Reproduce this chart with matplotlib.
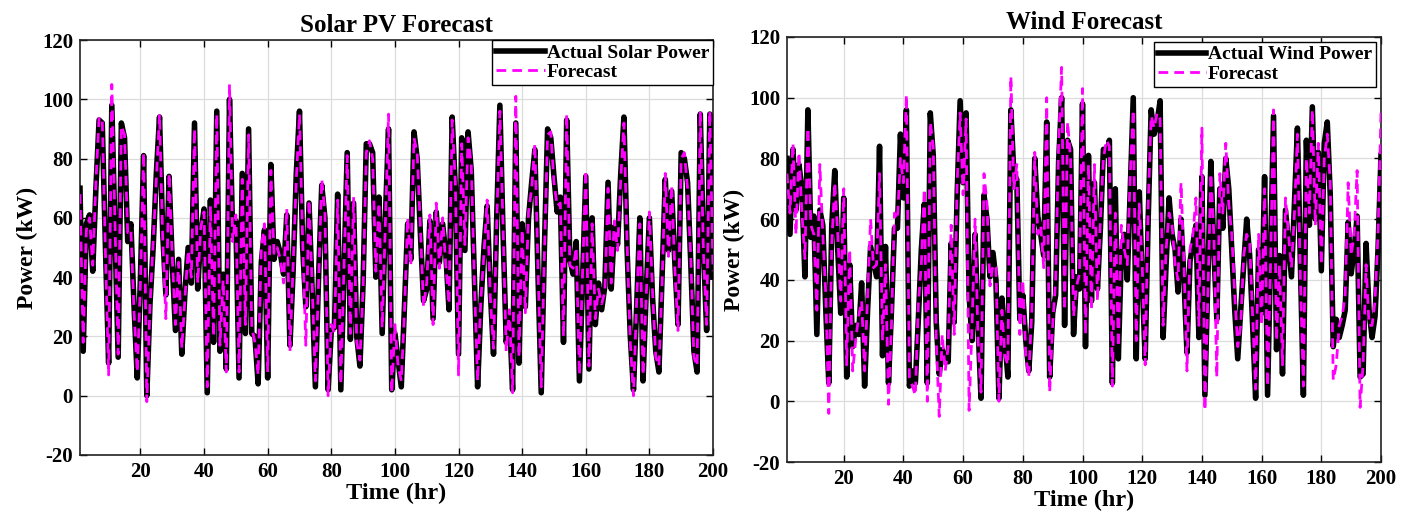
import numpy as np
import matplotlib
matplotlib.use("Agg")
import matplotlib.pyplot as plt

plt.rcParams['font.family'] = ['Liberation Serif', 'DejaVu Serif']
plt.rcParams['font.weight'] = 'bold'
plt.rcParams['axes.unicode_minus'] = False

hours = np.arange(1, 201)

solar_actual = [
    70, 15, 58, 61, 42, 70, 93, 92, 50, 11, 98, 55, 13, 92, 87, 52, 58, 30, 6, 40,
    81, 0, 31, 50, 75, 94, 55, 34, 74, 45, 22, 46, 14, 35, 50, 38, 92, 36, 55, 63,
    1, 66, 18, 96, 15, 41, 9, 100, 54, 59, 6, 75, 21, 90, 21, 20, 4, 45, 56, 6,
    78, 46, 52, 48, 41, 61, 17, 42, 75, 96, 50, 30, 65, 35, 3, 40, 71, 60, 2, 22,
    23, 68, 2, 42, 82, 19, 65, 20, 10, 38, 85, 85, 82, 40, 67, 21, 60, 90, 2, 21,
    12, 3, 30, 58, 46, 89, 80, 55, 32, 36, 59, 26, 62, 45, 58, 48, 29, 94, 70, 14,
    87, 49, 89, 76, 40, 3, 30, 50, 64, 35, 14, 60, 98, 55, 18, 27, 2, 92, 11, 58,
    30, 60, 72, 83, 40, 1, 50, 90, 87, 74, 62, 67, 18, 93, 46, 41, 52, 5, 40, 74,
    9, 60, 24, 38, 29, 37, 72, 36, 57, 51, 75, 94, 49, 20, 2, 30, 60, 5, 35, 60,
    33, 15, 8, 40, 73, 49, 69, 45, 24, 82, 80, 72, 45, 15, 8, 95, 50, 22, 95, 40,
]
solar_forecast = [
    68, 18, 56, 60, 44, 72, 94, 93, 48, 7, 105, 58, 14, 91, 88, 55, 56, 28, 8, 38,
    82, -2, 30, 52, 73, 95, 53, 26, 75, 47, 24, 45, 16, 33, 49, 40, 90, 38, 57, 62,
    3, 64, 20, 95, 17, 39, 8, 105, 52, 61, 8, 73, 24, 88, 23, 18, 7, 50, 58, 8,
    76, 48, 50, 46, 38, 63, 15, 44, 73, 95, 52, 17, 66, 37, 5, 38, 73, 62, 0, 24,
    21, 66, 4, 44, 81, 21, 67, 18, 12, 36, 82, 86, 80, 42, 65, 23, 58, 95, 1, 24,
    10, 5, 28, 60, 44, 87, 82, 57, 30, 38, 61, 24, 65, 43, 60, 44, 31, 93, 72, 7,
    85, 51, 87, 78, 38, 5, 32, 48, 66, 33, 16, 58, 96, 57, 15, 29, 1, 101, 13, 56,
    28, 62, 70, 85, 42, 3, 48, 88, 89, 72, 64, 65, 20, 95, 44, 43, 50, 7, 42, 76,
    10, 58, 26, 36, 31, 35, 70, 38, 59, 49, 73, 92, 51, 18, 0, 32, 58, 7, 33, 62,
    35, 13, 10, 38, 75, 47, 71, 43, 22, 80, 82, 70, 47, 13, 10, 96, 48, 24, 96, 42,
]

wind_actual = [
    80, 55, 83, 63, 78, 70, 41, 96, 54, 61, 22, 63, 58, 30, 6, 58, 76, 50, 29, 67,
    8, 45, 18, 25, 22, 39, 5, 30, 51, 46, 41, 84, 15, 51, 6, 30, 57, 57, 88, 67,
    96, 5, 10, 6, 27, 50, 65, 6, 95, 81, 26, 9, 17, 14, 13, 52, 26, 68, 99, 72,
    95, 35, 20, 55, 25, 1, 68, 60, 41, 49, 40, 1, 34, 20, 8, 96, 75, 73, 27, 35,
    20, 10, 26, 80, 61, 55, 48, 92, 8, 29, 35, 79, 100, 25, 86, 83, 22, 41, 37, 98,
    18, 81, 33, 72, 37, 57, 83, 81, 86, 6, 70, 14, 48, 55, 40, 70, 100, 14, 69, 40,
    14, 60, 96, 88, 92, 99, 21, 45, 67, 55, 50, 36, 60, 40, 16, 46, 52, 58, 21, 74,
    2, 40, 79, 50, 27, 70, 57, 80, 70, 50, 30, 14, 30, 45, 60, 48, 25, 1, 50, 29,
    74, 2, 48, 94, 17, 48, 9, 63, 52, 41, 65, 90, 45, 2, 86, 58, 97, 60, 82, 43,
    85, 92, 68, 18, 27, 21, 25, 30, 59, 42, 50, 61, 8, 9, 52, 30, 21, 28, 50, 81,
]
wind_forecast = [
    75, 62, 85, 55, 82, 62, 47, 90, 58, 55, 30, 78, 55, 35, -4, 52, 72, 55, 33, 70,
    12, 50, 10, 20, 28, 33, 10, 35, 60, 44, 45, 75, 20, 45, -1, 25, 62, 60, 80, 72,
    101, 8, 5, 2, 32, 45, 70, 0, 92, 84, 20, -5, 22, 10, 18, 58, 22, 72, 95, 68,
    93, -3, 25, 60, 20, 3, 75, 65, 38, 45, 44, 0, 30, 15, 12, 107, 70, 78, 22, 40,
    15, 8, 30, 82, 55, 58, 44, 100, 3, 25, 40, 85, 110, 30, 92, 80, 28, 38, 42, 103,
    22, 78, 30, 78, 33, 60, 80, 86, 84, 5, 62, 18, 58, 50, 45, 75, 96, 20, 65, 45,
    12, 65, 94, 90, 95, 93, 25, 50, 62, 58, 45, 40, 72, 45, 10, 50, 55, 67, 25, 90,
    -3, 35, 75, 55, 8, 75, 62, 85, 65, 55, 35, 18, 25, 48, 55, 52, 28, 4, 55, 25,
    70, 5, 45, 96, 20, 45, 12, 67, 55, 44, 62, 88, 40, 5, 80, 62, 96, 58, 85, 45,
    80, 88, 72, 7, 12, 25, 28, 35, 72, 48, 55, 76, -2, 12, 45, 25, 25, 33, 55, 95,
]

panels = [
    ("Solar PV Forecast", "Actual Solar Power", solar_actual, solar_forecast,
     [80 / 1409, 1 - 455 / 525, 633 / 1409, 415 / 525], 0.0),
    ("Wind Forecast", "Actual Wind Power", wind_actual, wind_forecast,
     [787 / 1409, 1 - 462 / 525, 594 / 1409, 425 / 525], 0.25),
]

fig = plt.figure(figsize=(14.09, 5.25), dpi=100)

for title, actual_label, actual, forecast, rect, leg_pad in panels:
    ax = fig.add_axes(rect)
    ax.plot(hours, actual, color='black', lw=4.0, label=actual_label,
            solid_joinstyle='round', zorder=3)
    ax.plot(hours, forecast, color='#ff00ff', lw=2.0, ls=(0, (3.5, 2.2)),
            label='Forecast', zorder=4)
    ax.set_xlim(1, 200)
    ax.set_ylim(-20, 120)
    ax.set_xticks(np.arange(20, 201, 20))
    ax.set_yticks(np.arange(-20, 121, 20))
    ax.grid(True, color='#dcdcdc', lw=0.9)
    ax.set_axisbelow(True)
    ax.tick_params(direction='in', top=True, right=True, length=5, width=1,
                   labelsize=15, pad=5)
    for lbl in ax.get_xticklabels() + ax.get_yticklabels():
        lbl.set_fontweight('bold')
    for sp in ax.spines.values():
        sp.set_linewidth(1.2)
        sp.set_color('#222222')
    ax.set_title(title, fontsize=18, fontweight='bold', pad=6)
    ax.set_xlabel('Time (hr)', fontsize=17.5, fontweight='bold', labelpad=1)
    ax.set_ylabel('Power (kW)', fontsize=17, fontweight='bold', labelpad=3)
    leg = ax.legend(loc='upper right', frameon=True, fancybox=False,
                    borderaxespad=leg_pad, handlelength=2.5, handletextpad=0.1,
                    borderpad=0.2, labelspacing=0.1,
                    prop={'weight': 'bold', 'size': 14})
    leg.get_frame().set_edgecolor('black')
    leg.get_frame().set_linewidth(1.0)
    leg.get_frame().set_alpha(1)

fig.savefig('out.png', dpi=100)
